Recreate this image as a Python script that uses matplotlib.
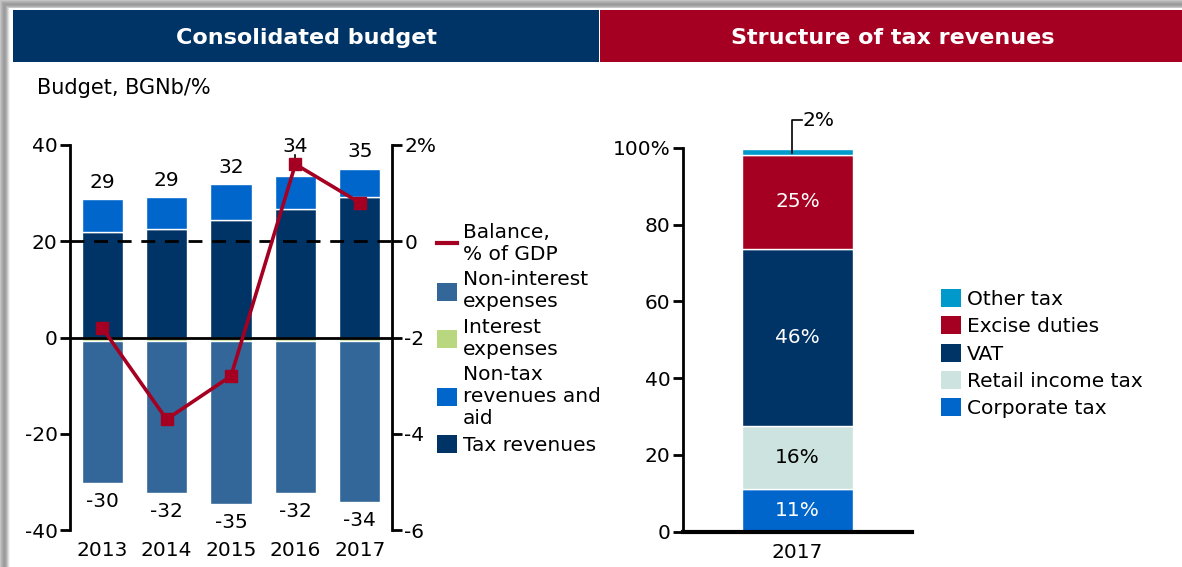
import matplotlib
matplotlib.use("Agg")
import matplotlib.pyplot as plt
from matplotlib.patches import Rectangle, Patch
from matplotlib.lines import Line2D

plt.rcParams['font.family'] = ['DejaVu Sans']

# ---------------- data ----------------
years = ["2013", "2014", "2015", "2016", "2017"]
tax_revenues = [22.0, 22.6, 24.5, 26.6, 29.2]
nontax_revenues = [6.7, 6.5, 7.3, 7.0, 5.8]
interest_exp = [-0.8, -0.8, -0.8, -0.8, -0.8]
noninterest_exp = [-29.4, -31.5, -33.7, -31.5, -33.4]
revenue_labels = ["29", "29", "32", "34", "35"]
expense_labels = ["-30", "-32", "-35", "-32", "-34"]
balance_gdp = [-1.8, -3.7, -2.8, 1.6, 0.8]

left_yticks = [-40, -20, 0, 20, 40]
right_yticks = [-6, -4, -2, 0, 2]
right_yticklabels = ["-6", "-4", "-2", "0", "2%"]

tax_cat = ["2017"]
tax_names = ["Corporate tax", "Retail income tax", "VAT", "Excise duties", "Other tax"]
tax_shares = [11.1, 16.4, 46.1, 24.6, 1.5]
tax_yticks = [0, 20, 40, 60, 80, 100]
tax_yticklabels = ["0", "20", "40", "60", "80", "100%"]

# ---------------- styles ----------------
NAVY = "#003366"
BLUE = "#0066cc"
STEEL = "#336699"
GREEN = "#b9d77f"
RED = "#a50021"
CYAN = "#0099cc"
MINT = "#cde3df"
FS = 14.5

W, H = 1182, 567
fig = plt.figure(figsize=(W / 100, H / 100), dpi=100)

def fx(px):
    return px / W

def fy(py):
    return 1 - py / H

# shadow frame
shades = ["#c4c4c4", "#b6b6b6", "#aaaaaa", "#a0a0a0", "#9a9a9a", "#a2a2a2", "#b0b0b0", "#c8c8c8", "#e0e0e0", "#f4f4f4"]
for i, c in enumerate(shades):
    fig.patches.append(Rectangle((fx(i), 0), fx(1.05), 1,
                                 transform=fig.transFigure, color=c, zorder=-5, lw=0))
for i, c in enumerate(shades[:8]):
    fig.patches.append(Rectangle((fx(min(i, 9)), fy(i + 1)), 1, 1.05 / H,
                                 transform=fig.transFigure, color=c, zorder=-5, lw=0))

# header bars
fig.patches.append(Rectangle((fx(13), fy(62)), fx(599 - 13), (62 - 10) / H,
                             transform=fig.transFigure, color=NAVY, zorder=-2, lw=0))
fig.patches.append(Rectangle((fx(600), fy(62)), fx(W - 600), (62 - 10) / H,
                             transform=fig.transFigure, color=RED, zorder=-2, lw=0))
fig.text(fx(306), fy(37.5), "Consolidated budget", color="white", fontsize=16, fontweight="bold",
         ha="center", va="center")
fig.text(fx(893), fy(37.5), "Structure of tax revenues", color="white", fontsize=16, fontweight="bold",
         ha="center", va="center")
fig.text(fx(37), fy(88), "Budget, BGNb/%", fontsize=15, ha="left", va="center")

# ---------------- left chart ----------------
ax = fig.add_axes([fx(70), fy(530), fx(392 - 70), (530 - 145) / H])
x = list(range(len(years)))
bw = 0.64
ek = dict(edgecolor="white", linewidth=1.0)
ax.bar(x, tax_revenues, bw, color=NAVY, zorder=2, **ek)
ax.bar(x, nontax_revenues, bw, bottom=tax_revenues, color=BLUE, zorder=2, **ek)
ax.bar(x, interest_exp, bw, color=GREEN, zorder=2, **ek)
ax.bar(x, noninterest_exp, bw, bottom=interest_exp, color=STEEL, zorder=2, **ek)

ax.set_xlim(-0.5, len(years) - 0.5)
ax.set_ylim(-40, 40)
ax.axhline(0, color="black", lw=2, zorder=3)
ax.axhline(20, color="black", lw=2, dashes=(5, 3.5), zorder=3)

ax2 = ax.twinx()
ax2.set_ylim(-6, 2)
ax2.plot(x, balance_gdp, color=RED, lw=2.6, marker="s", markersize=9, zorder=5)

# labels
for i in x:
    tot = tax_revenues[i] + nontax_revenues[i]
    bal_left = 20 + balance_gdp[i] * 10
    base = max(tot, bal_left)
    ax.text(i, base + 3.6, revenue_labels[i], ha="center", va="center", fontsize=FS, zorder=6)
    if bal_left > tot:
        ax.plot([i, i], [bal_left, base + 1.9], color="black", lw=1.2, zorder=6)
    neg = interest_exp[i] + noninterest_exp[i]
    ax.text(i, neg - 3.9, expense_labels[i], ha="center", va="center", fontsize=FS, zorder=6)

ax.set_xticks(x)
ax.set_xticklabels(years, fontsize=FS)
ax.tick_params(axis="x", length=0, pad=8)
ax.set_yticks(left_yticks)
ax.set_yticklabels([str(v) for v in left_yticks], fontsize=FS)
ax.tick_params(axis="y", length=7, width=2, direction="out", pad=2)
ax2.set_yticks(right_yticks)
ax2.set_yticklabels(right_yticklabels, fontsize=FS)
ax2.tick_params(axis="y", length=7, width=2, direction="out", pad=2)
for a in (ax, ax2):
    for s in ("top", "bottom"):
        a.spines[s].set_visible(False)
ax2.spines["left"].set_visible(False)
ax.spines["right"].set_visible(False)
ax.spines["left"].set_linewidth(2)
ax2.spines["right"].set_linewidth(2)
ax.set_zorder(1)
ax2.set_zorder(2)
ax2.patch.set_visible(False)

handles = [
    Line2D([], [], color=RED, lw=3),
    Patch(facecolor=STEEL),
    Patch(facecolor=GREEN),
    Patch(facecolor=BLUE),
    Patch(facecolor=NAVY),
]
labels = ["Balance,\n% of GDP", "Non-interest\nexpenses", "Interest\nexpenses",
          "Non-tax\nrevenues and\naid", "Tax revenues"]
fig.legend(handles, labels, loc="upper left", bbox_to_anchor=(fx(437), fy(223)), frameon=False,
           fontsize=FS, handlelength=1.0, handleheight=1.0, handletextpad=0.3,
           labelspacing=0.32, borderaxespad=0, borderpad=0)

# ---------------- right chart ----------------
bx = fig.add_axes([fx(683), fy(531.7), fx(912 - 683), (531.7 - 147.7) / H])
colors = [BLUE, MINT, NAVY, RED, CYAN]
txtcol = ["white", "black", "white", "white", None]
bottom = 0
tw = 0.485
for name, val, c, tc in zip(tax_names, tax_shares, colors, txtcol):
    bx.bar([0], [val], tw, bottom=bottom, color=c, edgecolor="white", linewidth=1.0, zorder=2)
    if tc is not None:
        bx.text(0, bottom + val / 2, f"{val:.0f}%", ha="center", va="center", color=tc, fontsize=FS, zorder=3)
    bottom += val
top = bottom
# leader for the small segment
lx = -0.025
bx.plot([lx, lx, lx + 0.045], [top - 1.2, 107.2, 107.2], color="black", lw=1.2, clip_on=False, zorder=4)
bx.text(lx + 0.048, 107.2, f"{tax_shares[-1]:.0f}%", ha="left", va="center", fontsize=FS)

bx.set_xlim(-0.5, 0.5)
bx.set_ylim(0, 100)
bx.set_xticks([0])
bx.set_xticklabels(tax_cat, fontsize=FS)
bx.tick_params(axis="x", length=0, pad=8)
bx.set_yticks(tax_yticks)
bx.set_yticklabels(tax_yticklabels, fontsize=FS)
bx.tick_params(axis="y", length=7, width=2, direction="out", pad=2)
for s in ("top", "right"):
    bx.spines[s].set_visible(False)
bx.spines["left"].set_linewidth(2)
bx.spines["bottom"].set_linewidth(3)

rh = [Patch(facecolor=c) for c in colors][::-1]
fig.legend(rh, tax_names[::-1], loc="upper left", bbox_to_anchor=(fx(941), fy(289)), frameon=False,
           fontsize=FS, handlelength=1.0, handleheight=1.0, handletextpad=0.3,
           labelspacing=0.37, borderaxespad=0, borderpad=0)

fig.savefig("out.png", dpi=100)
